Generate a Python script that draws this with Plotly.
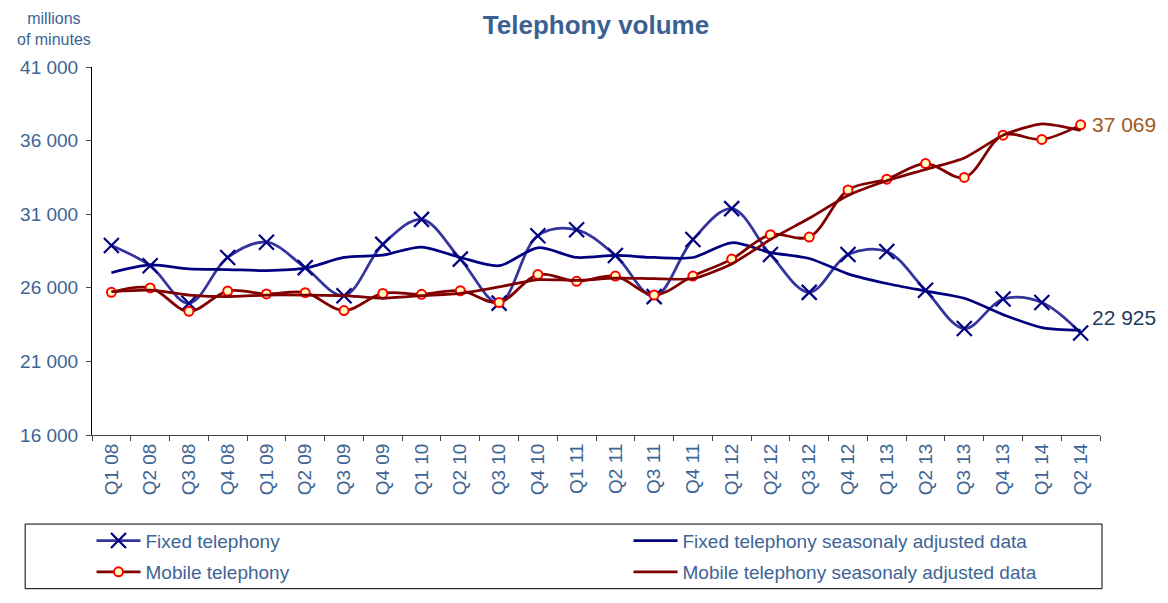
import plotly.graph_objects as go

quarters = ["Q1 08", "Q2 08", "Q3 08", "Q4 08", "Q1 09", "Q2 09", "Q3 09", "Q4 09",
            "Q1 10", "Q2 10", "Q3 10", "Q4 10", "Q1 11", "Q2 11", "Q3 11", "Q4 11",
            "Q1 12", "Q2 12", "Q3 12", "Q4 12", "Q1 13", "Q2 13", "Q3 13", "Q4 13",
            "Q1 14", "Q2 14"]

fixed = [28880, 27500, 24950, 28060, 29100, 27370, 25460, 28950,
         30650, 27950, 24960, 29540, 29940, 28200, 25400, 29280,
         31380, 28260, 25690, 28260, 28460, 25840, 23230, 25240,
         25000, 22925]

fixed_sa = [27020, 27550, 27280, 27240, 27170, 27330, 28060, 28220,
            28770, 28060, 27500, 28720, 28060, 28200, 28060, 28060,
            29060, 28390, 27990, 26950, 26290, 25780, 25290, 24180,
            23300, 23120]

mobile = [25690, 25990, 24400, 25780, 25580, 25670, 24450, 25620,
          25560, 25800, 25000, 26900, 26440, 26800, 25510, 26800,
          27950, 29610, 29450, 32650, 33380, 34440, 33500, 36370,
          36080, 37069]

mobile_sa = [25740, 25840, 25510, 25400, 25510, 25510, 25470, 25290,
             25470, 25620, 26060, 26550, 26510, 26650, 26620, 26620,
             27620, 29280, 30720, 32270, 33270, 34040, 34820, 36370,
             37140, 36700]

names = ["Fixed telephony", "Fixed telephony seasonaly adjusted data",
         "Mobile telephony", "Mobile telephony seasonaly adjusted data"]

TXT = "#3D6494"
FONT = "Liberation Sans, Arial, sans-serif"

fig = go.Figure()
fig.add_trace(go.Scatter(
    x=quarters, y=fixed, name=names[0], mode="lines+markers", legend="legend",
    line=dict(color="#34349C", width=2.75, shape="spline", smoothing=1),
    marker=dict(symbol="x-thin", size=15, line=dict(color="#000080", width=2.2),
                color="#000080")))
fig.add_trace(go.Scatter(
    x=quarters, y=fixed_sa, name=names[1], mode="lines", legend="legend",
    line=dict(color="#000080", width=2.75, shape="spline", smoothing=0.8)))
fig.add_trace(go.Scatter(
    x=quarters, y=mobile, name=names[2], mode="lines+markers", legend="legend2",
    line=dict(color="#800000", width=2.75, shape="spline", smoothing=1),
    marker=dict(symbol="circle", size=9, color="#FFFFC0",
                line=dict(color="#FF0000", width=2))))
fig.add_trace(go.Scatter(
    x=quarters, y=mobile_sa, name=names[3], mode="lines", legend="legend2",
    line=dict(color="#800000", width=2.75, shape="spline", smoothing=0.6)))

# end labels
fig.add_annotation(x=quarters[-1], y=mobile[-1], xref="x", yref="y",
                   text=f"{mobile[-1]:,}".replace(",", " "), showarrow=False,
                   xanchor="left", xshift=9, font=dict(size=21, color="#A0581E", family=FONT))
fig.add_annotation(x=quarters[-1], y=fixed[-1], xref="x", yref="y",
                   text=f"{fixed[-1]:,}".replace(",", " "), showarrow=False,
                   xanchor="left", xshift=9, yshift=16,
                   font=dict(size=21, color="#1F3B60", family=FONT))

# y axis unit
fig.add_annotation(x=-0.0376, y=1.103, xref="paper", yref="paper",
                   text="millions<br>of minutes", showarrow=False,
                   xanchor="center", yanchor="middle", align="center",
                   font=dict(size=16, color=TXT, family=FONT))

# legend frame
fig.add_shape(type="rect", xref="paper", yref="paper",
              x0=-0.0663, x1=1.002, y0=-0.4176, y1=-0.242,
              line=dict(color="#000000", width=1), fillcolor="rgba(0,0,0,0)")

legend_common = dict(orientation="h", x=-0.0005, xanchor="left", yanchor="middle",
                     borderwidth=0, bgcolor="rgba(0,0,0,0)",
                     itemwidth=44, entrywidth=478, entrywidthmode="pixels",
                     font=dict(size=19, color=TXT, family=FONT), traceorder="normal")

fig.update_layout(
    width=1160, height=595,
    margin=dict(l=82, r=68, t=59, b=160),
    paper_bgcolor="white", plot_bgcolor="white",
    separators=". ",
    font=dict(family=FONT, color=TXT, size=19),
    title=dict(text="<b>Telephony volume</b>", x=0.5, xref="paper",
               y=1 - 17 / 595, yref="container", yanchor="middle",
               font=dict(size=26, color="#3B6193", family=FONT)),
    showlegend=True,
    legend=dict(y=-0.2872, **legend_common),
    legend2=dict(y=-0.3723, **legend_common),
    xaxis=dict(type="category", categoryorder="array", categoryarray=quarters,
               showline=True, linecolor="#444444", linewidth=1,
               ticks="outside", ticklen=5, tickcolor="#444444", tickson="boundaries",
               tickangle=-90, showgrid=False, zeroline=False,
               tickfont=dict(size=19, color=TXT), range=[-0.5, 25.5]),
    yaxis=dict(range=[16000, 41000], dtick=5000, tick0=16000, tickformat=",d",
               showline=True, linecolor="#000000", linewidth=1,
               ticks="outside", ticklen=5, tickcolor="#444444",
               ticklabelstandoff=4,
               showgrid=False, zeroline=False,
               tickfont=dict(size=19, color=TXT)),
)

fig.write_html("out.html")
